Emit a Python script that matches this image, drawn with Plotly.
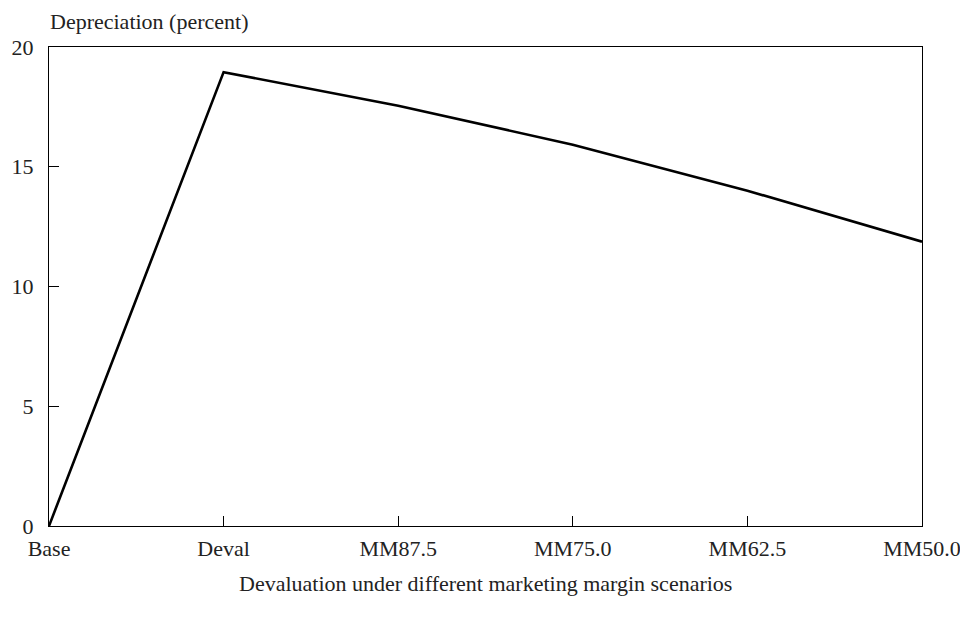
import plotly.graph_objects as go

categories = ["Base", "Deval", "MM87.5", "MM75.0", "MM62.5", "MM50.0"]
depreciation = [0.0, 18.95, 17.55, 15.92, 14.0, 11.87]
y_ticks = [0, 5, 10, 15, 20]

FONT = "Liberation Serif, Times New Roman, serif"

fig = go.Figure()
fig.add_trace(go.Scatter(
    x=categories, y=depreciation, mode="lines",
    line=dict(color="black", width=2.6),
    showlegend=False, hoverinfo="skip",
))

fig.update_layout(
    width=968, height=617,
    margin=dict(l=41, r=54, t=39, b=99, autoexpand=False),
    paper_bgcolor="white", plot_bgcolor="white",
    font=dict(family=FONT, size=22, color="#222"),
    xaxis=dict(
        type="category", range=[0, len(categories) - 1],
        automargin=False,
        showline=True, linecolor="black", linewidth=1.3, mirror=True,
        ticks="inside", ticklen=10, tickwidth=1.3, tickcolor="black",
        showgrid=False, zeroline=False,
        ticklabelstandoff=2,
        tickfont=dict(family=FONT, size=22, color="#222"),
    ),
    yaxis=dict(
        range=[0, 20], tickvals=y_ticks,
        automargin=False,
        showline=True, linecolor="black", linewidth=1.3, mirror=True,
        ticks="inside", ticklen=10, tickwidth=1.3, tickcolor="black",
        showgrid=False, zeroline=False,
        ticklabelstandoff=10,
        tickfont=dict(family=FONT, size=22, color="#222"),
    ),
    annotations=[
        dict(text="Depreciation (percent)", xref="paper", yref="paper",
             x=0, y=1, xshift=-1, yshift=26, xanchor="left", yanchor="middle",
             showarrow=False, font=dict(family=FONT, size=22, color="#222")),
        dict(text="Devaluation under different marketing margin scenarios",
             xref="paper", yref="paper", x=0.5, y=0, yshift=-57,
             xanchor="center", yanchor="middle", showarrow=False,
             font=dict(family=FONT, size=22, color="#222")),
    ],
)

fig.write_html("out.html")
